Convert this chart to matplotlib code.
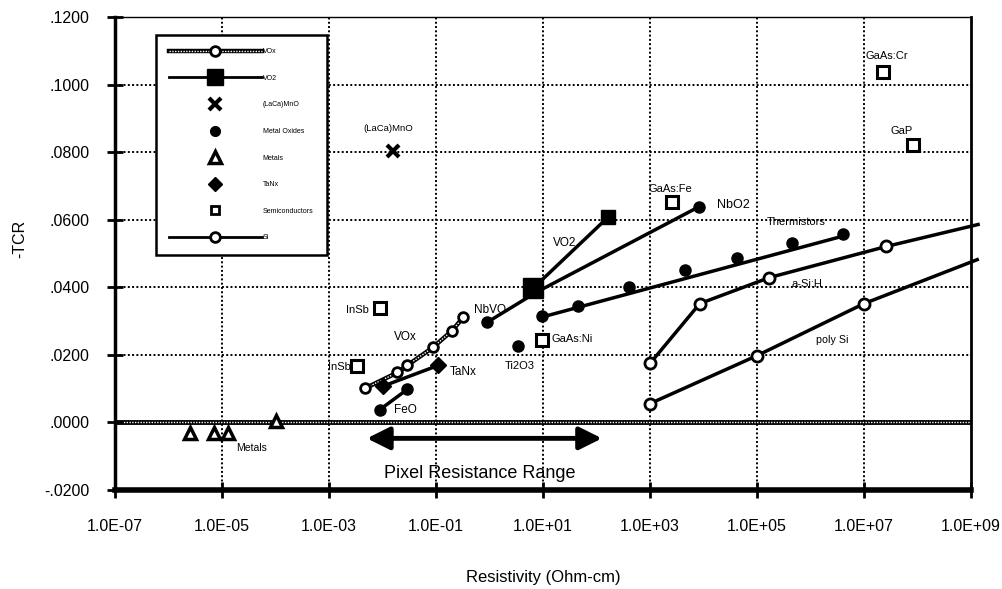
"""
TCR versus resistivity for bolometer materials, redrawn from the scan.
"""
import matplotlib
matplotlib.use("Agg")
import matplotlib.pyplot as plt
from matplotlib.lines import Line2D
from matplotlib.legend_handler import HandlerTuple
from matplotlib.ticker import FixedLocator, FuncFormatter, NullLocator

plt.rcParams["font.family"] = ["Liberation Sans", "DejaVu Sans"]

# ---- data ---------------------------------------------------------------
metals_r = [2.5e-6, 7e-6, 1.3e-5, 1.0e-4]
metals_tcr = [-0.003, -0.003, -0.003, 0.0005]

vox_r = [4.7e-3, 1.9e-2, 2.9e-2, 8.7e-2, 0.20, 0.32]
vox_tcr = [0.0101, 0.0148, 0.0169, 0.0222, 0.0272, 0.0311]

vo2_r = [6.5, 162]
vo2_tcr = [0.0397, 0.0607]

lacamno_r = [1.6e-2]
lacamno_tcr = [0.0805]

tanx_r = [1.0e-2, 0.11]
tanx_tcr = [0.0107, 0.0169]

feo_r = [8.9e-3, 2.9e-2]
feo_tcr = [0.0038, 0.0098]

nbo2_r = [0.89, 7.4, 8.3e3]
nbo2_tcr = [0.0296, 0.0385, 0.0639]

ti2o3_r = [3.4]
ti2o3_tcr = [0.0225]

therm_r = [9.5, 45, 410, 4.5e3, 4.3e4, 4.4e5, 4.1e6]
therm_tcr = [0.0314, 0.0346, 0.0400, 0.0450, 0.0486, 0.0530, 0.0557]
therm_fit_r = [9.5, 4.1e6]
therm_fit_tcr = [0.0312, 0.0552]

semi_names = ["InSb", "InSb", "GaAs:Ni", "GaAs:Fe", "GaAs:Cr", "GaP"]
semi_r = [8.9e-3, 3.3e-3, 9.5, 2.6e3, 2.3e7, 8.3e7]
semi_tcr = [0.0340, 0.0166, 0.0243, 0.0654, 0.1036, 0.0820]

asi_r = [1e3, 8.5e3, 1.7e5, 2.6e7, 1.35e9]
asi_tcr = [0.0175, 0.0352, 0.0429, 0.0521, 0.0586]

polysi_r = [1e3, 1e5, 1e7, 1.3e9]
polysi_tcr = [0.0056, 0.0198, 0.0352, 0.0482]

pixel_range = [5.1e-3, 1.26e2]

xticks = [1e-7, 1e-5, 1e-3, 1e-1, 1e1, 1e3, 1e5, 1e7, 1e9]
yticks = [-0.02, 0.0, 0.02, 0.04, 0.06, 0.08, 0.10, 0.12]


def main():
    fig = plt.figure(figsize=(10.03, 5.89), dpi=100)
    ax = fig.add_axes([0.1147, 0.168, 0.8535, 0.803])
    ax.set_xscale("log")
    ax.set_xlim(1e-7, 1e9)
    ax.set_ylim(-0.02, 0.12)

    # grid
    for y in yticks[2:-1]:
        ax.axhline(y, color="black", lw=1.4, ls=(0, (1, 1.2)), zorder=1)
    for x in xticks[1:-1]:
        ax.axvline(x, color="black", lw=1.4, ls=(0, (1, 1.2)), zorder=1)
    ax.axhline(0, color="black", lw=3.5, zorder=1)
    ax.axhline(0, color="white", lw=1.0, ls=(0, (1, 1)), zorder=1)

    # series
    ax.plot(vox_r, vox_tcr, color="black", lw=3.2, zorder=3)
    ax.plot(vox_r, vox_tcr, color="white", lw=1.0, ls=(0, (1, 1)), zorder=3)
    ax.plot(vox_r, vox_tcr, ls="none", marker="o", ms=7, mfc="white",
            mec="black", mew=2, zorder=4)

    ax.plot(vo2_r, vo2_tcr, color="black", lw=2.5, zorder=3)
    ax.plot(vo2_r[:1], vo2_tcr[:1], ls="none", marker="s", ms=14,
            color="black", zorder=4)
    ax.plot(vo2_r[1:], vo2_tcr[1:], ls="none", marker="s", ms=10.5,
            color="black", zorder=4)
    ax.plot(nbo2_r, nbo2_tcr, color="black", lw=2.5, marker="o", ms=8,
            markevery=[0, 2], zorder=3)
    ax.plot(lacamno_r, lacamno_tcr, ls="none", marker="x", ms=9, mew=3,
            color="black", zorder=4)
    ax.plot(tanx_r, tanx_tcr, color="black", lw=2.5, marker="D", ms=8,
            zorder=4)
    ax.plot(feo_r, feo_tcr, color="black", lw=2.5, marker="o", ms=8,
            zorder=4)
    ax.plot(ti2o3_r, ti2o3_tcr, ls="none", marker="o", ms=8,
            color="black", zorder=4)
    ax.plot(therm_fit_r, therm_fit_tcr, color="black", lw=2.5, zorder=3)
    ax.plot(therm_r, therm_tcr, ls="none", marker="o", ms=8,
            color="black", zorder=4)
    ax.plot(metals_r, metals_tcr, ls="none", marker="^", ms=9, mfc="white",
            mec="black", mew=2.5, zorder=4)
    ax.plot(semi_r, semi_tcr, ls="none", marker="s", ms=8, mfc="white",
            mec="black", mew=2.2, zorder=4)
    ax.plot(asi_r, asi_tcr, color="black", lw=2.5, marker="o", ms=8,
            mfc="white", mew=2, markevery=[0, 1, 2, 3], zorder=4,
            clip_on=False)
    ax.plot(polysi_r, polysi_tcr, color="black", lw=2.5, marker="o", ms=8,
            mfc="white", mew=2, markevery=[0, 1, 2], zorder=4,
            clip_on=False)

    # pixel resistance range arrow
    ax.annotate("", xy=(pixel_range[0], -0.0047),
                xytext=(pixel_range[1], -0.0047),
                arrowprops=dict(arrowstyle="<|-|>", lw=3.5, color="black",
                                mutation_scale=34, shrinkA=0, shrinkB=0))
    ax.text(10 ** -0.18, -0.0151, "Pixel Resistance Range", ha="center",
            va="center", fontsize=13)

    # point labels
    lab = dict(ha="center", va="center", zorder=5)
    ax.text(10 ** -4.44, -0.0077, "Metals", fontsize=7.5, **lab)
    ax.text(10 ** -1.90, 0.0870, "(LaCa)MnO", fontsize=6.8, **lab)
    ax.text(10 ** -2.25, 0.0332, "InSb", fontsize=8, ha="right",
            va="center")
    ax.text(10 ** -2.60, 0.0163, "InSb", fontsize=8, ha="right",
            va="center")
    ax.text(10 ** -1.58, 0.0252, "VOx", fontsize=8.5, **lab)
    ax.text(10 ** -0.74, 0.0148, "TaNx", fontsize=8.5, ha="left",
            va="center")
    ax.text(10 ** -1.78, 0.0036, "FeO", fontsize=8.5, ha="left",
            va="center")
    ax.text(10 ** 0.01, 0.0334, "NbVO", fontsize=8.5, **lab)
    ax.text(10 ** 1.41, 0.0530, "VO2", fontsize=8.5, **lab)
    ax.text(10 ** 0.57, 0.0166, "Ti2O3", fontsize=8, **lab)
    ax.text(10 ** 1.15, 0.0246, "GaAs:Ni", fontsize=8, ha="left",
            va="center")
    ax.text(10 ** 3.37, 0.0690, "GaAs:Fe", fontsize=8, **lab)
    ax.text(10 ** 4.55, 0.0645, "NbO2", fontsize=9, **lab)
    ax.text(10 ** 5.73, 0.0592, "Thermistors", fontsize=8, **lab)
    ax.text(10 ** 5.93, 0.0411, "a-Si:H", fontsize=8, **lab)
    ax.text(10 ** 6.40, 0.0243, "poly Si", fontsize=7.7, **lab)
    ax.text(10 ** 7.43, 0.1086, "GaAs:Cr", fontsize=8, **lab)
    ax.text(10 ** 7.71, 0.0864, "GaP", fontsize=8, **lab)

    # axes styling
    ax.xaxis.set_major_locator(FixedLocator(xticks))
    ax.xaxis.set_minor_locator(NullLocator())
    ax.xaxis.set_major_formatter(FuncFormatter(lambda v, p: f"{v:.1E}"))
    ax.yaxis.set_major_locator(FixedLocator(yticks))
    ax.yaxis.set_major_formatter(
        FuncFormatter(lambda v, p: f"{v:.4f}".replace("0.", ".", 1)))
    ax.tick_params(direction="inout", length=11, width=2, labelsize=11.5)
    ax.tick_params(axis="y", pad=13)
    ax.tick_params(axis="x", pad=15)
    for side, lw in (("left", 2.5), ("bottom", 4), ("right", 2),
                     ("top", 1)):
        ax.spines[side].set_linewidth(lw)

    ax.set_ylabel("-TCR", fontsize=11.5)
    ax.yaxis.set_label_coords(-0.103, 0.53)
    ax.set_xlabel("Resistivity (Ohm-cm)", fontsize=12)
    ax.xaxis.set_label_coords(0.5, -0.168)

    # legend
    h_vox = (Line2D([], [], color="black", lw=3.2),
             Line2D([], [], color="white", lw=1.0, ls=(0, (1, 1))),
             Line2D([], [], ls="none", marker="o", ms=7, mfc="white",
                    mec="black", mew=2))
    h_vo2 = Line2D([], [], color="black", lw=2, marker="s", ms=11)
    h_lca = Line2D([], [], ls="none", marker="x", ms=8, mew=3,
                   color="black")
    h_mox = Line2D([], [], ls="none", marker="o", ms=7, color="black")
    h_met = Line2D([], [], ls="none", marker="^", ms=8, mfc="white",
                   mec="black", mew=2.5)
    h_tan = Line2D([], [], ls="none", marker="D", ms=7, color="black")
    h_sem = Line2D([], [], ls="none", marker="s", ms=6, mfc="white",
                   mec="black", mew=2)
    h_si = Line2D([], [], color="black", lw=2, marker="o", ms=7,
                  mfc="white", mew=2)
    leg = ax.legend([h_vox, h_vo2, h_lca, h_mox, h_met, h_tan, h_sem, h_si],
                    ["VOx", "VO2", "(LaCa)MnO", "Metal Oxides", "Metals",
                     "TaNx", "Semiconductors", "Si"],
                    handler_map={tuple: HandlerTuple(ndivide=1, pad=0)},
                    loc="upper left", bbox_to_anchor=(0.0479, 0.962),
                    borderaxespad=0, fontsize=5, handlelength=13.3,
                    handletextpad=0.15, labelspacing=2.82, borderpad=1.9,
                    fancybox=False, framealpha=1, edgecolor="black")
    leg.get_frame().set_linewidth(1.8)
    leg.set_zorder(6)

    fig.savefig("out.png", dpi=100)


if __name__ == "__main__":
    main()
